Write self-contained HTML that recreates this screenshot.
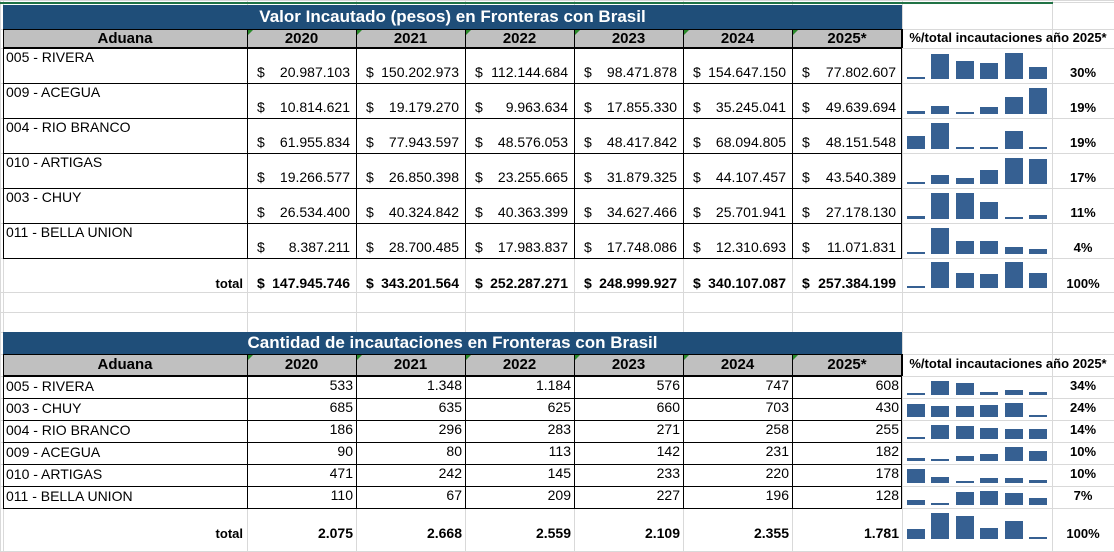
<!DOCTYPE html><html><head><meta charset="utf-8"><style>
body{margin:0;width:1114px;height:551px;overflow:hidden;background:#fff;position:relative;font-family:"Liberation Sans",Arial,sans-serif;}
div{position:absolute;box-sizing:border-box;}
.t{white-space:nowrap;font-size:14px;color:#000;}
</style></head><body>
<script>
const X=[3,247,356,465,574,683,792,902,1052,1114];
let h='';
function box(x,y,w,ht,st){h+=`<div style="left:${x}px;top:${y}px;width:${w}px;height:${ht}px;${st}"></div>`;}
function txt(x,y,s,st){h+=`<div class="t" style="left:${x}px;top:${y}px;${st}">${s}</div>`;}
const gy=[0,2,29,48,83,118,153,188,223,258,292,312,332,354,376,398,420,442,464,486,508,551];
gy.forEach(y=>box(0,y,1114,1,'background:#d9d9d9'));
X.concat([0]).forEach(x=>box(x,0,1,551,'background:#d9d9d9'));
box(0,2,1053,2,'background:#217346');
function table(top,title,rows,money,rh,totalRow,totH,pcts,hdrTop){
 const tY=top, hY=hdrTop, dY=hY+(top<100?19:22);
 box(3,tY,899,hY-tY,'background:#1f4e79');
 txt(3,tY+ (hY-tY)/2-10,title,'width:899px;text-align:center;color:#fff;font-weight:bold;font-size:17px;');
 box(3,hY,899,dY-hY,'background:#c0c0c0;border:1px solid #000');
 for(let i=0;i<8;i++){box(X[i],hY,1,dY-hY,'background:#000');}
 const hd=['Aduana','2020','2021','2022','2023','2024','2025*'];
 for(let i=0;i<7;i++){txt(X[i],hY+(dY-hY)/2-9,hd[i],`width:${X[i+1]-X[i]}px;text-align:center;font-weight:bold;font-size:15px;`);
  if(i>0)h+=`<div style="left:${X[i]+1}px;top:${hY+1}px;width:0;height:0;border-top:5px solid #2a8a2a;border-right:5px solid transparent"></div>`;}
 txt(902,hY+(dY-hY)/2-9,'%/total incautaciones año 2025*','width:212px;text-align:center;font-weight:bold;font-size:13px;');
 const all=rows.concat([totalRow]);
 all.forEach((r,ri)=>{
  const isT=ri==rows.length; const y=dY+ri*rh, H=isT?totH:rh;
  if(!isT){box(3,y,899,rh+1,'border:1px solid #000');for(let i=1;i<7;i++)box(X[i],y,1,rh,'background:#000');
   txt(6,money?y+1:y+2,r[0],'');}
  const ty=isT?(money?y+H-17:y+H-26):y+H-(money?19:21);
  if(isT) txt(3,ty+1,'total','width:240px;text-align:right;font-weight:bold;font-size:13px;');
  for(let i=1;i<7;i++){
   const v=r[i].toLocaleString('de-DE'); const st=isT?'font-weight:bold;':'';
   if(money){txt(X[i]+10,ty,'$',st);txt(X[i],ty,v,`width:${X[i+1]-X[i]-6}px;text-align:right;${st}`);}
   else txt(X[i],ty,v,`width:${X[i+1]-X[i]-3}px;text-align:right;${st}`);
  }
  const vals=r.slice(1),mn=Math.min(...vals),mx=Math.max(...vals);
  const bot=isT?(money?y+30:y+31):y+rh-(money?4:3), MH=isT?26:(money?26:14);
  vals.forEach((v,k)=>{const bh=Math.round(2+(v-mn)/(mx-mn)*(MH-2));box(907+k*24.4,bot-bh,18,bh,'background:#366092');});
  txt(1052,ty+1,pcts[ri],'width:62px;text-align:center;font-weight:bold;font-size:13px;');
 });
}
table(5,'Valor Incautado (pesos) en Fronteras con Brasil',[
['005 - RIVERA',20987103,150202973,112144684,98471878,154647150,77802607],
['009 - ACEGUA',10814621,19179270,9963634,17855330,35245041,49639694],
['004 - RIO BRANCO',61955834,77943597,48576053,48417842,68094805,48151548],
['010 - ARTIGAS',19266577,26850398,23255665,31879325,44107457,43540389],
['003 - CHUY',26534400,40324842,40363399,34627466,25701941,27178130],
['011 - BELLA UNION',8387211,28700485,17983837,17748086,12310693,11071831]],
true,35,['total',147945746,343201564,252287271,248999927,340107087,257384199],34,['30%','19%','19%','17%','11%','4%','100%'],29);
table(332,'Cantidad de incautaciones en Fronteras con Brasil',[
['005 - RIVERA',533,1348,1184,576,747,608],
['003 - CHUY',685,635,625,660,703,430],
['004 - RIO BRANCO',186,296,283,271,258,255],
['009 - ACEGUA',90,80,113,142,231,182],
['010 - ARTIGAS',471,242,145,233,220,178],
['011 - BELLA UNION',110,67,209,227,196,128]],
false,22,['total',2075,2668,2559,2109,2355,1781],43,['34%','24%','14%','10%','10%','7%','100%'],354);
document.body.insertAdjacentHTML('beforeend',h);
</script>
</body></html>
